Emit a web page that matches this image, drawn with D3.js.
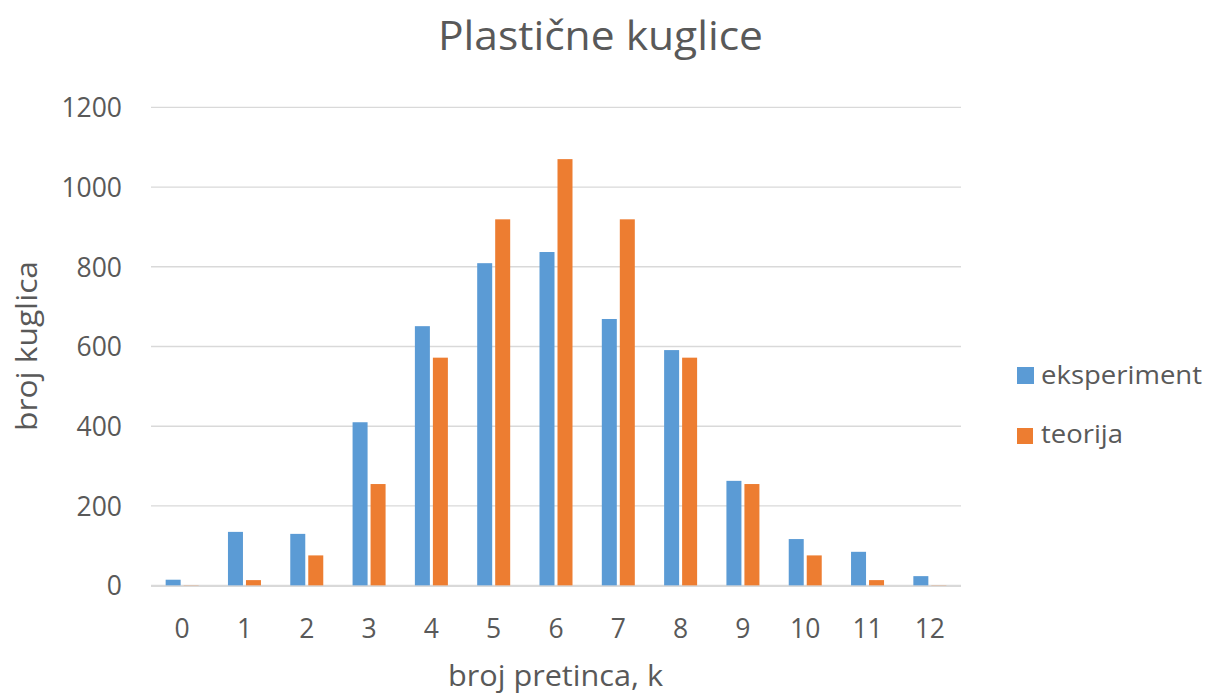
<!DOCTYPE html>
<html>
<head>
<meta charset="utf-8">
<script src="https://cdn.jsdelivr.net/npm/d3@7"></script>
<style>
  html, body { margin: 0; padding: 0; background: #ffffff; }
  svg { display: block; }
  text { font-family: "Open Sans", "DejaVu Sans", sans-serif; fill: #595959; }
</style>
</head>
<body>
<svg id="chart" width="1207" height="695"></svg>
<script>
// ---- data ----
const categories = ["0","1","2","3","4","5","6","7","8","9","10","11","12"];
const seriesNames = ["eksperiment", "teorija"];
const eksperiment = [15, 135, 130, 410, 651, 809, 837, 669, 591, 263, 117, 85, 24];
const teorija = [1, 14, 76, 255, 572, 919, 1070, 919, 572, 255, 76, 14, 1];
const yTicks = [0, 200, 400, 600, 800, 1000, 1200];
const title = "Plastične kuglice";
const xTitle = "broj pretinca, k";
const yTitle = "broj kuglica";
const colors = ["#5b9bd5", "#ed7d31"];

const svg = d3.select("#chart");
const W = 1207, H = 695;
svg.append("rect").attr("width", W).attr("height", H).attr("fill", "#ffffff");

const plot = { left: 151, right: 961, top: 107.3, bottom: 585.7 };

const x0 = d3.scaleBand().domain(categories).range([plot.left, plot.right]).paddingInner(0).paddingOuter(0);
const half = x0.bandwidth() / 2;
const x1 = d3.scaleBand().domain(seriesNames).range([half - 16.5, half + 16.5]).paddingInner(1/6).paddingOuter(0);
const y = d3.scaleLinear().domain([0, 1200]).range([plot.bottom, plot.top]);
const color = d3.scaleOrdinal().domain(seriesNames).range(colors);

// gridlines
const grid = svg.append("g").attr("class", "grid");
grid.selectAll("line").data(yTicks).join("line")
  .attr("x1", plot.left).attr("x2", plot.right)
  .attr("y1", d => y(d)).attr("y2", d => y(d))
  .attr("stroke", "#d9d9d9")
  .attr("stroke-width", d => d === 0 ? 2 : 1.3);

// y axis labels
const yAxis = d3.axisLeft(y).tickValues(yTicks).tickSize(0).tickPadding(0).tickFormat(d3.format("d"));
const yg = svg.append("g").attr("transform", `translate(122,0)`).call(yAxis);
yg.select(".domain").remove();
yg.selectAll("text").attr("font-size", 26.5).attr("fill", "#595959")
  .attr("font-family", "'Open Sans', sans-serif").attr("dy", "0.35em");

// x axis labels
const xAxis = d3.axisBottom(x0).tickSize(0).tickPadding(0);
const xg = svg.append("g").attr("transform", `translate(0,${plot.bottom})`).call(xAxis);
xg.select(".domain").remove();
xg.selectAll("text").attr("font-size", 26.5).attr("fill", "#595959")
  .attr("font-family", "'Open Sans', sans-serif").attr("dy", null).attr("y", 52);

// bars
const rows = categories.map((c, i) => ({ cat: c, values: [
  { key: "eksperiment", value: eksperiment[i] },
  { key: "teorija", value: teorija[i] }
]}));
const groups = svg.append("g").selectAll("g").data(rows).join("g")
  .attr("transform", d => `translate(${x0(d.cat)},0)`);
groups.selectAll("rect").data(d => d.values).join("rect")
  .attr("x", d => x1(d.key))
  .attr("width", x1.bandwidth())
  .attr("y", d => y(d.value))
  .attr("height", d => y(0) - y(d.value))
  .attr("fill", d => color(d.key));

// redraw baseline over bars
svg.append("line").attr("x1", plot.left).attr("x2", plot.right)
  .attr("y1", y(0) + 0.5).attr("y2", y(0) + 0.5)
  .attr("stroke", "#d9d9d9").attr("stroke-width", 1.5);

// title
svg.append("text").attr("x", 600.5).attr("y", 50).attr("text-anchor", "middle")
  .attr("font-size", 41).attr("textLength", 325).attr("lengthAdjust", "spacingAndGlyphs")
  .text(title);

// x title
svg.append("text").attr("x", 555.5).attr("y", 686).attr("text-anchor", "middle")
  .attr("font-size", 29).attr("textLength", 215).attr("lengthAdjust", "spacingAndGlyphs")
  .text(xTitle);

// y title
svg.append("text").attr("transform", "translate(36.5,346) rotate(-90)")
  .attr("text-anchor", "middle")
  .attr("font-size", 30).attr("textLength", 170).attr("lengthAdjust", "spacingAndGlyphs")
  .text(yTitle);

// legend
const legendData = [
  { name: "eksperiment", rx: 1017, ry: 367, rs: 17, tx: 1041, ty: 384, tw: 161 },
  { name: "teorija", rx: 1017, ry: 428, rs: 16, tx: 1041, ty: 443, tw: 82 }
];
const lg = svg.append("g").selectAll("g").data(legendData).join("g");
lg.append("rect").attr("x", d => d.rx).attr("y", d => d.ry)
  .attr("width", d => d.rs).attr("height", d => d.rs).attr("fill", d => color(d.name));
lg.append("text").attr("x", d => d.tx).attr("y", d => d.ty)
  .attr("font-size", 25).attr("textLength", d => d.tw).attr("lengthAdjust", "spacingAndGlyphs")
  .text(d => d.name);
</script>
</body>
</html>
